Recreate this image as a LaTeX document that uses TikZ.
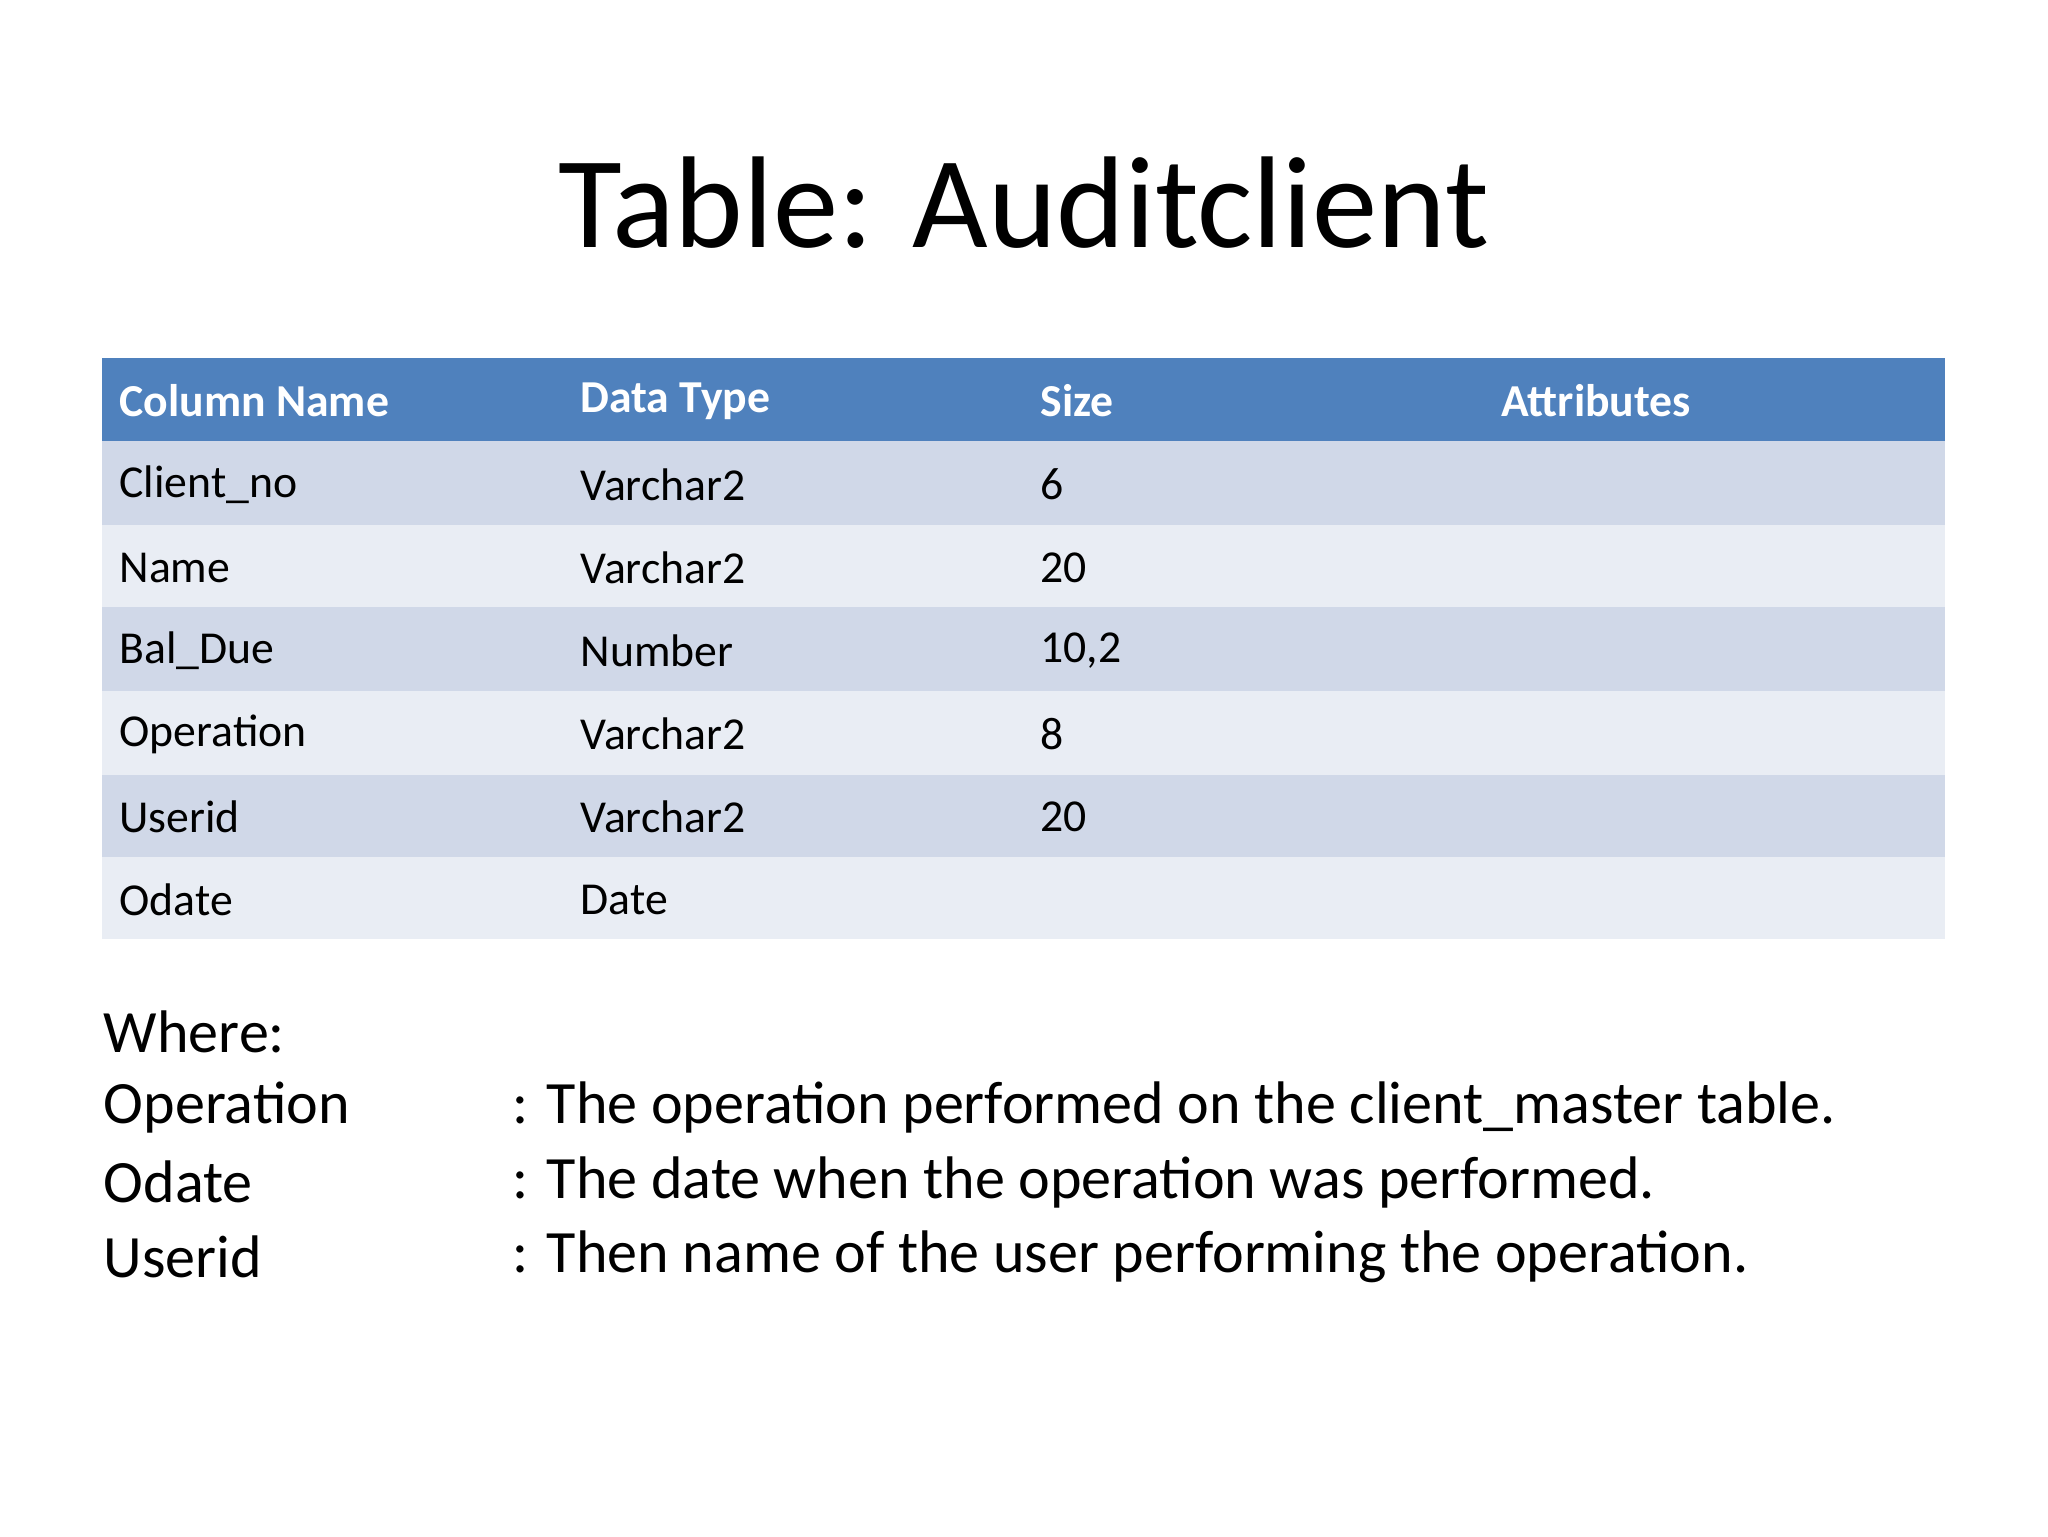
\documentclass[tikz,border=0pt]{standalone}
\usepackage{fontspec}
\setmainfont{Carlito}
\definecolor{hdr}{HTML}{4F81BD}
\definecolor{rowa}{HTML}{D0D8E8}
\definecolor{rowb}{HTML}{E9EDF4}
\begin{document}
\begin{tikzpicture}[x=1pt,y=-1pt,
  cell/.style={anchor=west,font=\fontsize{35}{40}\selectfont},
  hcell/.style={anchor=west,font=\fontsize{35}{40}\selectfont\bfseries,text=white},
  wtext/.style={anchor=west,font=\fontsize{46}{52}\selectfont}]
\useasboundingbox (0,0) rectangle (1568,1176);
\fill[white] (0,0) rectangle (1568,1176);
\node[font=\fontsize{100}{110}\selectfont] (title) at (784,155) {Table: Auditclient};
\fill[hdr] (78,274) rectangle (1489,338);
\fill[rowa] (78,338) rectangle (1489,402);
\fill[rowb] (78,402) rectangle (1489,465);
\fill[rowa] (78,465) rectangle (1489,529);
\fill[rowb] (78,529) rectangle (1489,593);
\fill[rowa] (78,593) rectangle (1489,656);
\fill[rowb] (78,656) rectangle (1489,719);
\node[hcell] (h1) at (88,307) {Column Name};
\node[hcell] (h2) at (441,307) {Data Type};
\node[hcell] (h3) at (793,307) {Size};
\node[hcell] (h4) at (1146,307) {Attributes};
\foreach \y/\a/\b/\c in {371/Client\_no/Varchar2/6, 435/Name/Varchar2/20, 498/Bal\_Due/Number/{10,2}, 562/Operation/Varchar2/8, 625/Userid/Varchar2/20, 689/Odate/Date/{}} {
  \node[cell] at (88,\y) {\a};
  \node[cell] at (441,\y) {\b};
  \node[cell] at (793,\y) {\c};
}
\node[wtext] (w) at (76,790) {Where:};
\node[wtext] (o1) at (76,848) {Operation};
\node[wtext] (o2) at (389,848) {: The operation performed on the client\_master table.};
\node[wtext] (d1) at (76,905) {Odate};
\node[wtext] (d2) at (389,905) {: The date when the operation was performed.};
\node[wtext] (u1) at (76,962) {Userid};
\node[wtext] (u2) at (389,962) {: Then name of the user performing the operation.};
\end{tikzpicture}
\end{document}
